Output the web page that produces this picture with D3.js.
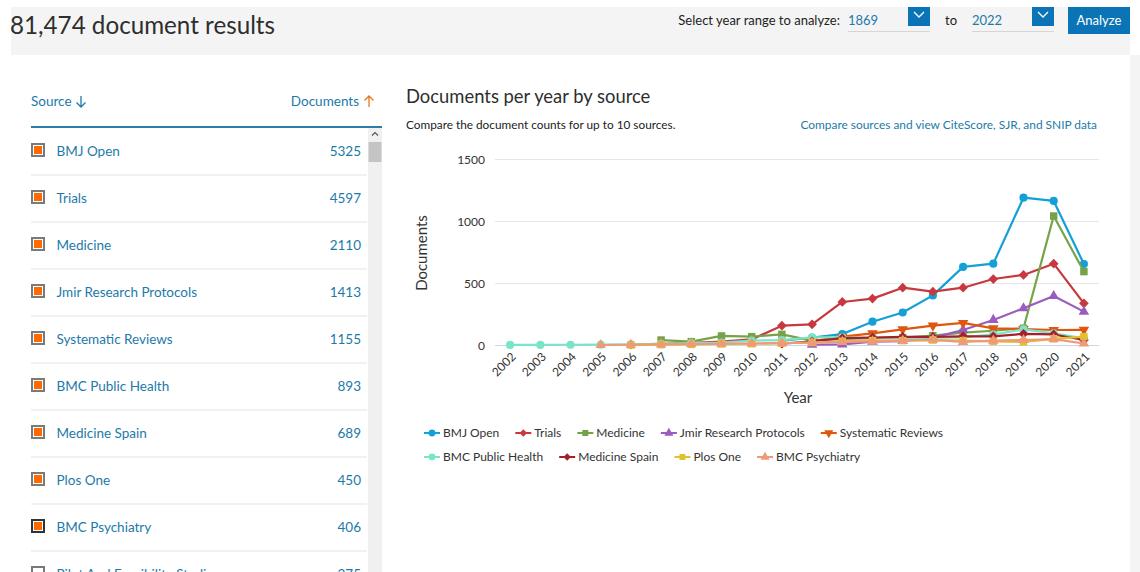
<!DOCTYPE html>
<html>
<head>
<meta charset="utf-8">
<script src="https://cdn.jsdelivr.net/npm/d3@7/dist/d3.min.js"></script>
<style>
  html, body { margin: 0; padding: 0; background: #fff; }
  svg { display: block; font-family: Lato, "Open Sans", sans-serif; }
</style>
</head>
<body>
<svg id="c" width="1140" height="572"></svg>
<script>
// ---------------- data ----------------
const totalResults = "81,474 document results";
const yearFrom = "1869";
const yearTo = "2022";

const listNames = ["BMJ Open", "Trials", "Medicine", "Jmir Research Protocols", "Systematic Reviews",
  "BMC Public Health", "Medicine Spain", "Plos One", "BMC Psychiatry", "Pilot And Feasibility Studies"];
const listCounts = [5325, 4597, 2110, 1413, 1155, 893, 689, 450, 406, 375];
const listChecked = [true, true, true, true, true, true, true, true, true, false];

const years = ["2002","2003","2004","2005","2006","2007","2008","2009","2010","2011",
  "2012","2013","2014","2015","2016","2017","2018","2019","2020","2021"];
const yTicks = [0, 500, 1000, 1500];

const seriesNames = ["BMJ Open", "Trials", "Medicine", "Jmir Research Protocols", "Systematic Reviews",
  "BMC Public Health", "Medicine Spain", "Plos One", "BMC Psychiatry"];
const seriesColors = ["#12a0d7", "#c8393f", "#76a34a", "#9b5cbf", "#e0560f",
  "#7ae4c9", "#a5202d", "#e1c22c", "#ee9a78"];
const seriesSymbols = ["circle", "diamond", "square", "triangle", "triangle-down",
  "circle", "diamond", "square", "triangle"];

const bmjOpen      = [null,null,null,null,null,null,null,null,null,35,60,88,188,262,400,630,656,1188,1162,653];
const trials       = [null,null,null,null,3,10,18,28,45,156,167,347,374,462,430,462,532,565,656,336];
const medicine     = [null,null,null,null,null,40,27,73,67,86,35,50,55,60,75,100,115,135,1040,592];
const jmir         = [null,null,null,null,null,null,null,null,null,null,2,5,27,32,59,121,202,296,395,269];
const sysReviews   = [null,null,null,null,null,null,null,null,null,null,30,67,94,126,156,178,134,129,121,122];
const bmcPublic    = [1,1,2,3,5,10,15,20,35,40,62,62,55,55,60,62,85,126,94,54];
const medSpain     = [null,null,null,null,null,null,null,null,null,10,30,55,60,65,65,70,70,90,85,40];
const plosOne      = [null,null,null,null,0,3,5,8,10,15,20,30,35,35,40,35,30,25,50,67];
const bmcPsych     = [null,null,null,0,2,5,8,10,12,15,18,25,30,35,42,25,35,40,48,12];

const seriesValues = [bmjOpen, trials, medicine, jmir, sysReviews, bmcPublic, medSpain, plosOne, bmcPsych];

// ---------------- drawing ----------------
const svg = d3.select("#c");
const blue = "#1c7aa8";
const txt = "#333";

// page background pieces
svg.append("rect").attr("x", 0).attr("y", 0).attr("width", 1140).attr("height", 572).attr("fill", "#fff");
svg.append("rect").attr("x", 11).attr("y", 7).attr("width", 1119).attr("height", 48).attr("fill", "#f4f4f4");
svg.append("rect").attr("x", 1130).attr("y", 55).attr("width", 10).attr("height", 517).attr("fill", "#f4f4f4");

// header
svg.append("text").attr("x", 10).attr("y", 34).attr("font-size", 25).attr("fill", "#2e2e2e")
  .attr("textLength", 265).attr("lengthAdjust", "spacingAndGlyphs")
  .text(totalResults);
svg.append("text").attr("x", 840).attr("y", 25).attr("text-anchor", "end").attr("font-size", 13)
  .attr("fill", "#222").text("Select year range to analyze:");

function dropdown(x, val) {
  const g = svg.append("g");
  g.append("text").attr("x", x).attr("y", 25).attr("font-size", 13).attr("fill", blue).text(val);
  g.append("line").attr("x1", x).attr("x2", x + 82).attr("y1", 31.5).attr("y2", 31.5)
    .attr("stroke", "#d6d6d6").attr("stroke-width", 1);
  g.append("rect").attr("x", x + 60).attr("y", 7).attr("width", 22).attr("height", 19).attr("fill", "#0b74b6");
  g.append("path").attr("d", `M${x + 66},${12} L${x + 71},${17} L${x + 76},${12}`)
    .attr("fill", "none").attr("stroke", "#fff").attr("stroke-width", 1.3);
}
dropdown(848, yearFrom);
svg.append("text").attr("x", 945).attr("y", 25).attr("font-size", 13).attr("fill", "#222").text("to");
dropdown(972, yearTo);
svg.append("rect").attr("x", 1068).attr("y", 7).attr("width", 62).attr("height", 27).attr("fill", "#0b74b6");
svg.append("text").attr("x", 1099).attr("y", 25).attr("text-anchor", "middle").attr("font-size", 13)
  .attr("fill", "#fff").text("Analyze");

// ---------------- left list ----------------
svg.append("text").attr("x", 31).attr("y", 106).attr("font-size", 13.5).attr("fill", blue).text("Source");
svg.append("path").attr("d", "M81,96 L81,107 M76.5,102.5 L81,107 L85.5,102.5").attr("fill", "none")
  .attr("stroke", blue).attr("stroke-width", 1.3);
svg.append("text").attr("x", 359).attr("y", 106).attr("text-anchor", "end").attr("font-size", 13.5)
  .attr("fill", blue).text("Documents");
svg.append("path").attr("d", "M369,107 L369,96 M364.5,100.5 L369,96 L373.5,100.5").attr("fill", "none")
  .attr("stroke", "#e8761e").attr("stroke-width", 1.3);
svg.append("line").attr("x1", 31).attr("x2", 382).attr("y1", 127).attr("y2", 127)
  .attr("stroke", "#2a7fa8").attr("stroke-width", 2);

// scrollbar
svg.append("rect").attr("x", 368).attr("y", 128).attr("width", 14).attr("height", 444).attr("fill", "#f0f0f0");
svg.append("rect").attr("x", 368.5).attr("y", 142).attr("width", 13).attr("height", 20).attr("fill", "#c4c4c4");
svg.append("path").attr("d", "M372,135.5 L375,132.5 L378,135.5").attr("fill", "none")
  .attr("stroke", "#555").attr("stroke-width", 1.2);

const rowY = d3.scaleBand().domain(d3.range(listNames.length)).range([128, 128 + 47 * listNames.length]);
const rows = svg.append("g").selectAll("g").data(listNames).join("g")
  .attr("transform", (d, i) => `translate(0,${rowY(i)})`);
rows.append("rect").attr("x", 32).attr("y", 16).attr("width", 12).attr("height", 12)
  .attr("fill", "#fff").attr("stroke", (d, i) => i === 8 ? "#333" : "#7a7a7a").attr("stroke-width", 2);
rows.filter((d, i) => listChecked[i]).append("rect").attr("x", 34).attr("y", 18).attr("width", 8).attr("height", 8)
  .attr("fill", "#ff6a00");
rows.append("text").attr("x", 56.5).attr("y", 28).attr("font-size", 13.5).attr("fill", blue).text(d => d);
rows.append("text").attr("x", 361).attr("y", 28).attr("text-anchor", "end").attr("font-size", 13.5)
  .attr("fill", blue).text((d, i) => listCounts[i]);
rows.filter((d, i) => i < listNames.length - 1).append("line")
  .attr("x1", 31).attr("x2", 367).attr("y1", 47).attr("y2", 47).attr("stroke", "#ececec").attr("stroke-width", 1.5);

// ---------------- chart ----------------
svg.append("text").attr("x", 406).attr("y", 103).attr("font-size", 18.4).attr("fill", "#2e2e2e")
  .text("Documents per year by source");
svg.append("text").attr("x", 406).attr("y", 129).attr("font-size", 11.8).attr("fill", "#222")
  .text("Compare the document counts for up to 10 sources.");
svg.append("text").attr("x", 1097).attr("y", 129).attr("text-anchor", "end").attr("font-size", 11.9)
  .attr("fill", blue).text("Compare sources and view CiteScore, SJR, and SNIP data");

const x = d3.scalePoint().domain(years).range([495, 1099]).padding(0.5);
const y = d3.scaleLinear().domain([0, 1500]).range([345, 159]);

// grid
svg.append("g").selectAll("line").data(yTicks.filter(t => t > 0)).join("line")
  .attr("x1", 495).attr("x2", 1099).attr("y1", d => y(d) + 0.5).attr("y2", d => y(d) + 0.5)
  .attr("stroke", "#e6e6e6").attr("stroke-width", 1);

// y axis
const yAxis = svg.append("g").attr("transform", "translate(485,0)")
  .call(d3.axisLeft(y).tickValues(yTicks).tickSize(0).tickPadding(0).tickFormat(d3.format("d")));
yAxis.select(".domain").remove();
yAxis.selectAll("text").attr("font-size", 12).attr("fill", txt).attr("font-family", "Lato, sans-serif")
  .attr("dy", "0.35em");

// x axis
const xAxis = svg.append("g").attr("transform", "translate(0,345.5)")
  .call(d3.axisBottom(x).tickSize(0).tickPadding(0));
xAxis.select(".domain").attr("stroke", "#ccd6eb").attr("d", "M495,0H1099");
xAxis.selectAll("text").attr("font-size", 12).attr("fill", txt).attr("font-family", "Lato, sans-serif")
  .attr("text-anchor", "end").attr("dy", 0).attr("y", 0)
  .attr("transform", "translate(6,12) rotate(-45)");

svg.append("text").attr("x", 798).attr("y", 403).attr("text-anchor", "middle").attr("font-size", 15)
  .attr("fill", txt).text("Year");
svg.append("text").attr("transform", "translate(427,253) rotate(-90)").attr("text-anchor", "middle")
  .attr("font-size", 15).attr("fill", txt).text("Documents");

// lines
const symMap = {
  "circle": d3.symbolCircle, "diamond": d3.symbolDiamond2, "square": d3.symbolSquare,
  "triangle": d3.symbolTriangle, "triangle-down": d3.symbolTriangle
};
function symbolPath(kind, size) {
  return d3.symbol().type(symMap[kind]).size(size)();
}
const line = d3.line().defined(d => d.v != null).x(d => x(d.year)).y(d => y(d.v));
const plot = svg.append("g");
seriesNames.forEach((name, si) => {
  const pts = years.map((yr, i) => ({ year: yr, v: seriesValues[si][i] }));
  const g = plot.append("g");
  g.append("path").attr("d", line(pts)).attr("fill", "none").attr("stroke", seriesColors[si])
    .attr("stroke-width", 2.2).attr("stroke-linejoin", "round");
  const kind = seriesSymbols[si];
  const size = kind === "circle" ? 52 : kind === "square" ? 56 : kind === "diamond" ? 60 : 48;
  g.selectAll("path.m").data(pts.filter(d => d.v != null)).join("path").attr("class", "m")
    .attr("d", symbolPath(kind, size))
    .attr("transform", d => `translate(${x(d.year)},${y(d.v)})` + (kind === "triangle-down" ? " rotate(180)" : ""))
    .attr("fill", seriesColors[si]);
});

// legend (flowing layout, two rows)
const legendRows = [[0, 1, 2, 3, 4], [5, 6, 7, 8]];
const legendRowY = [433, 457];
const legG = svg.append("g");
legendRows.forEach((idxs, r) => {
  let cx = 424;
  idxs.forEach(i => {
    const g = legG.append("g").attr("transform", `translate(${cx},${legendRowY[r]})`);
    g.append("line").attr("x1", 0).attr("x2", 16).attr("y1", 0).attr("y2", 0)
      .attr("stroke", seriesColors[i]).attr("stroke-width", 2);
    g.append("path").attr("d", symbolPath(seriesSymbols[i], 36))
      .attr("transform", "translate(8,0)" + (seriesSymbols[i] === "triangle-down" ? " rotate(180)" : ""))
      .attr("fill", seriesColors[i]);
    const t = g.append("text").attr("x", 19).attr("y", 4.3).attr("font-size", 12).attr("fill", txt)
      .text(seriesNames[i]);
    const w = t.node().getComputedTextLength();
    cx += 19 + w + 16;
  });
});
</script>
</body>
</html>
